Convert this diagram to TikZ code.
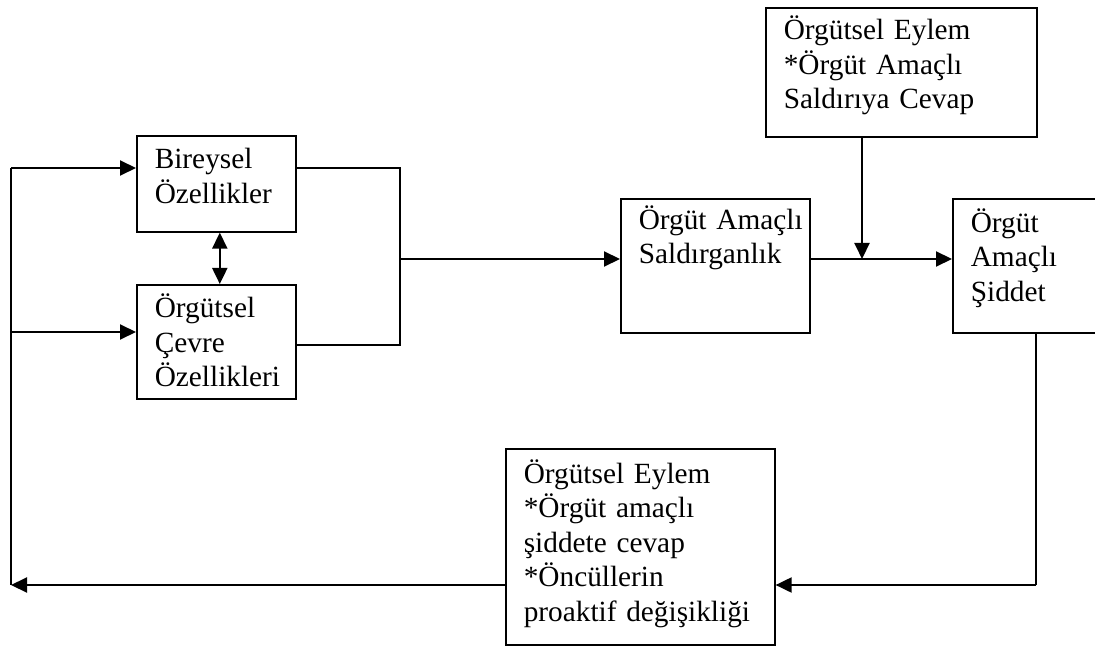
\documentclass[tikz,border=0pt]{standalone}
\usepackage{fontspec}
\setmainfont{Liberation Serif}
\usetikzlibrary{arrows.meta, positioning}

% metni kutunun üstüne doğru iter
\newcommand{\altbosluk}[1]{\\[#1]~}

\begin{document}
\begin{tikzpicture}[x=0.5pt, y=-0.5pt, >={Triangle[length=8pt,width=7.5pt]},
		blok/.style={rectangle, draw=black, line width=0.8pt, anchor=north west, align=left, inner xsep=9pt, inner ysep=4pt, font=\fontsize{14.65}{17.25}\selectfont},
		link/.style={line width=1pt}]
		
		\useasboundingbox (0,0) rectangle (1095,646);
		
		% Öncüller
		\node[blok, text width=61.5pt, minimum width=79.5pt, minimum height=48pt] (bireysel) at (136,135) {Bireysel\\Özellikler\altbosluk{-9.25pt}};
		\node[blok, text width=61.5pt, minimum width=79.5pt, minimum height=57pt] (cevre) at (136,284) {Örgütsel\\Çevre\\Özellikleri\altbosluk{-16pt}};
		
		% Saldırganlık ve şiddet
		\node[blok, inner ysep=2pt, text width=76.5pt, minimum width=94.5pt, minimum height=67pt] (saldirgan) at (620,198) {Örgüt~Amaçlı\\Saldırganlık\altbosluk{14pt}};
		\node[blok, text width=55pt, minimum width=73pt, minimum height=67pt] (siddet) at (952,198) {Örgüt\\Amaçlı\\Şiddet\altbosluk{-6.35pt}};
		
		% Örgütsel eylemler
		\node[blok, text width=117.5pt, minimum width=135.5pt, minimum height=63.5pt] (eylem1) at (765,7) {Örgütsel Eylem\\{}*Örgüt Amaçlı\\Saldırıya Cevap\altbosluk{-7pt}};
		\node[blok, text width=116.5pt, minimum width=134.5pt, minimum height=98pt] (eylem2) at (505,448) {Örgütsel Eylem\\{}*Örgüt amaçlı\\şiddete cevap\\{}*Öncüllerin\\proaktif değişikliği\altbosluk{-11pt}};
		
		% Yardımcı noktalar
		\coordinate (solust) at (11,168);
		\coordinate (solorta) at (11,332);
		\coordinate (solalt) at (11,585);
		\coordinate (birust) at (400,168);
		\coordinate (biralt) at (400,345);
		\coordinate (birlesme) at (400,259);
		\coordinate (kesisme) at (862,259);
		\coordinate (sagalt) at (1036,585);
		
		% Öncüllerden saldırganlığa
		\draw[link, <->] ([xshift=1.75pt]bireysel.south) -- ([xshift=1.75pt]cevre.north);
		\draw[link] (bireysel.east |- birust) -- (birust) -- (biralt) -- (cevre.east |- biralt);
		\draw[link, ->] (birlesme) -- (saldirgan.west |- birlesme);
		
		% Saldırganlıktan şiddete
		\draw[link, ->] (saldirgan.east |- kesisme) -- (siddet.west |- kesisme);
		\draw[link, ->] (eylem1.south -| kesisme) -- (kesisme);
		
		% Geri besleme
		\draw[link] (siddet.south -| sagalt) -- (sagalt);
		\draw[link, ->] (sagalt) -- (eylem2.east |- sagalt);
		\draw[link, ->] (eylem2.west |- solalt) -- (solalt);
		\draw[link] (solust) -- (solalt);
		\draw[link, ->] (solust) -- (bireysel.west |- solust);
		\draw[link, ->] (solorta) -- (cevre.west |- solorta);
		
	\end{tikzpicture}
\end{document}
